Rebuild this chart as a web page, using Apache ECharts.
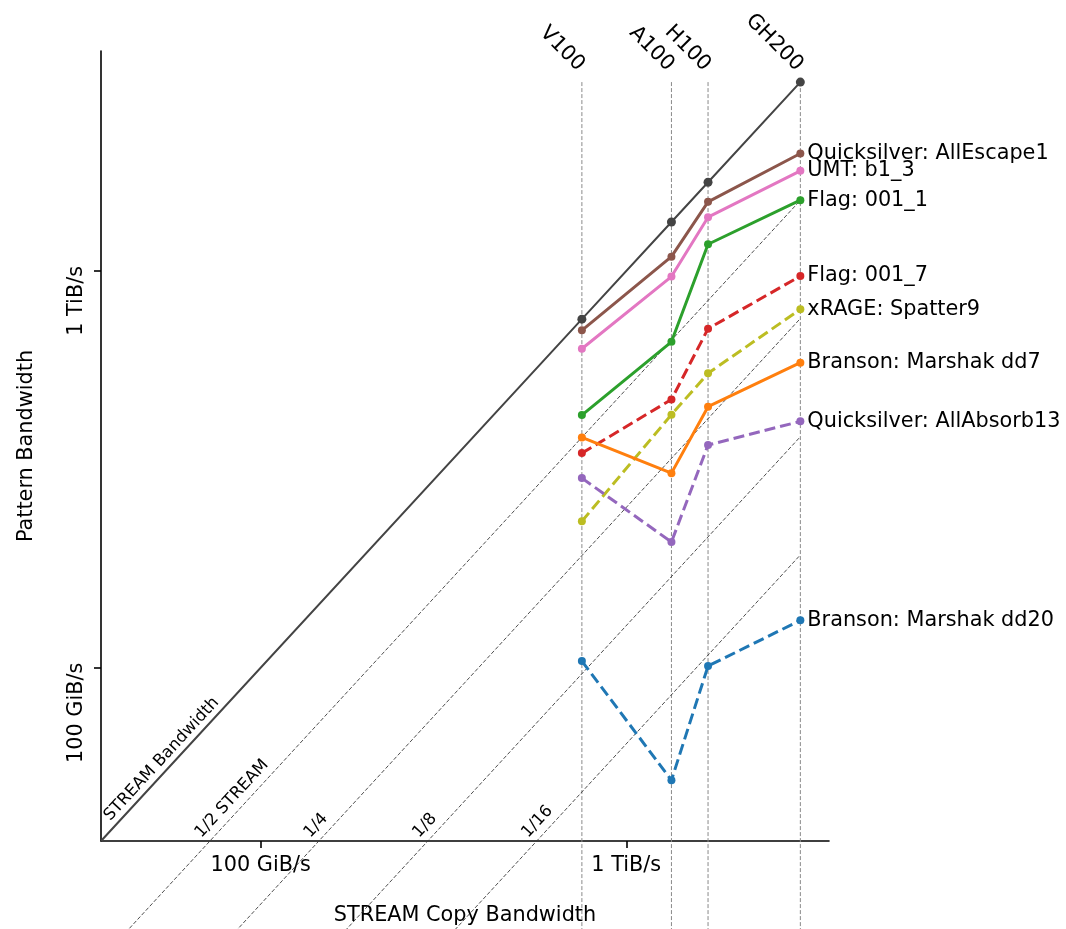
<!DOCTYPE html>
<html>
<head>
<meta charset="utf-8">
<script src="https://cdn.jsdelivr.net/npm/echarts@6/dist/echarts.min.js"></script>
<style>
  html, body { margin: 0; padding: 0; background: #fff; }
  #chart { width: 1066px; height: 929px; }
</style>
</head>
<body>
<div id="chart"></div>
<script>
// GPUs and their STREAM copy bandwidth (GiB/s)
const gpus = ['V100', 'A100', 'H100', 'GH200'];
const streamCopy = [772, 1365, 1723, 3100];

// pattern bandwidth per GPU (GiB/s), same order as gpus
const allEscape1 = [723, 1114, 1536, 2040];
const umtB13 = [649, 991, 1404, 1842];
const flag0011 = [440, 676, 1198, 1551];
const flag0017 = [352, 482, 730, 994];
const spatter9 = [236, 441, 562, 818];
const marshakDd7 = [386, 313, 462, 598];
const allAbsorb13 = [304, 209, 369, 424];
const marshakDd20 = [104, 51.7, 101, 132];

const patterns = [
  { name: 'Quicksilver: AllEscape1', values: allEscape1, color: '#8c564b', dashed: false },
  { name: 'UMT: b1_3', values: umtB13, color: '#e377c2', dashed: false },
  { name: 'Flag: 001_1', values: flag0011, color: '#2ca02c', dashed: false },
  { name: 'Flag: 001_7', values: flag0017, color: '#d62728', dashed: true },
  { name: 'xRAGE: Spatter9', values: spatter9, color: '#bcbd22', dashed: true },
  { name: 'Branson: Marshak dd7', values: marshakDd7, color: '#ff7f0e', dashed: false },
  { name: 'Quicksilver: AllAbsorb13', values: allAbsorb13, color: '#9467bd', dashed: true },
  { name: 'Branson: Marshak dd20', values: marshakDd20, color: '#1f77b4', dashed: true }
];

const ratios = [1 / 2, 1 / 4, 1 / 8, 1 / 16];
const ratioLabels = ['1/2 STREAM', '1/4', '1/8', '1/16'];

const axisMin = 36.2;
const axisMax = 3720;
const guideFloor = 10;
const tickValues = [100, 1024];
const tickLabels = ['100 GiB/s', '1 TiB/s'];

const FONT = 'DejaVu Sans';
const fs = 20.8;

function tickText(v) {
  let best = 0;
  tickValues.forEach((t, i) => {
    if (Math.abs(Math.log(v / t)) < Math.abs(Math.log(v / tickValues[best]))) best = i;
  });
  return tickLabels[best];
}

const series = [];
const guideTop = Math.max(...streamCopy);

// vertical guides at each GPU
streamCopy.forEach((x, i) => {
  series.push({
    type: 'line', name: gpus[i], silent: true, clip: false, symbol: 'none', z: 1,
    data: [[x, guideTop], [x, guideFloor]],
    lineStyle: { color: '#8a8a8a', width: 1, type: [4, 2] }
  });
});

// fractions of STREAM
ratios.forEach((r, i) => {
  series.push({
    type: 'line', name: ratioLabels[i], silent: true, clip: false, symbol: 'none', z: 1,
    data: [[axisMin, axisMin * r], [guideTop, guideTop * r]],
    lineStyle: { color: '#3a3a3a', width: 0.9, type: [4, 2] }
  });
});

// STREAM itself
series.push({
  type: 'line', name: 'STREAM Bandwidth', z: 3, clip: false,
  data: [{ value: [axisMin, axisMin], symbol: 'none' }].concat(streamCopy.map(v => [v, v])),
  symbol: 'circle', symbolSize: 9,
  itemStyle: { color: '#444' },
  lineStyle: { color: '#444', width: 2 }
});

patterns.forEach(p => {
  series.push({
    type: 'line', name: p.name, z: 4,
    data: streamCopy.map((x, i) => [x, p.values[i]]),
    symbol: 'circle', symbolSize: 8,
    itemStyle: { color: p.color },
    lineStyle: { color: p.color, width: 3, type: p.dashed ? [11, 5] : 'solid' },
    endLabel: { show: true, formatter: '{a}', color: '#000', fontSize: fs, fontFamily: FONT, distance: 7 }
  });
});

const axisCommon = {
  type: 'log', logBase: 10, min: axisMin, max: axisMax,
  nameLocation: 'middle', nameGap: 64,
  nameTextStyle: { fontSize: fs, color: '#000', fontFamily: FONT },
  axisLine: { show: true, lineStyle: { color: '#000', width: 1.6 } },
  axisTick: { show: true, customValues: tickValues, length: 7, lineStyle: { color: '#000', width: 1.6 } },
  minorTick: { show: false },
  splitLine: { show: false },
  minorSplitLine: { show: false }
};

const chart = echarts.init(document.getElementById('chart'));
chart.setOption({
  animation: false,
  backgroundColor: '#fff',
  textStyle: { fontFamily: FONT },
  grid: { left: 101, right: 237, top: 51, bottom: 88, containLabel: false, outerBoundsMode: 'none' },
  xAxis: Object.assign({}, axisCommon, {
    name: 'STREAM Copy Bandwidth',
    axisLabel: { customValues: tickValues, formatter: tickText, fontSize: fs, color: '#000', fontFamily: FONT, margin: 14 }
  }),
  yAxis: Object.assign({}, axisCommon, {
    name: 'Pattern Bandwidth',
    axisLabel: {
      customValues: tickValues, formatter: tickText, fontSize: fs, color: '#000', fontFamily: FONT,
      rotate: 90, align: 'right', verticalAlign: 'bottom', padding: [0, -5, 0, 0], margin: 14
    }
  }),
  series: series
});

// text annotations placed through the chart's own coordinate system
const px = v => chart.convertToPixel({ gridIndex: 0 }, v);
const a0 = px([axisMin, axisMin]);
const a1 = px([guideTop, guideTop]);
const slope = Math.atan2(a0[1] - a1[1], a1[0] - a0[0]);
const small = 16.5;
const graphics = [];

function baselineText(text, x, y, rot, size, align) {
  return {
    type: 'text', x: x, y: y, rotation: rot, silent: true, z: 100,
    style: { text: text, x: 0, y: -0.32 * size, fill: '#000', font: size + 'px "' + FONT + '"', align: align, verticalAlign: 'middle' }
  };
}

graphics.push(baselineText('STREAM Bandwidth', a0[0] + 10, a0[1] - 19, slope, small, 'left'));
ratios.forEach((r, i) => {
  const c = px([axisMin / r, axisMin]);
  graphics.push(baselineText(ratioLabels[i], c[0] - 8, c[1] - 2, slope, small, 'left'));
});
streamCopy.forEach((x, i) => {
  const p = px([x, guideTop]);
  graphics.push(baselineText(gpus[i], p[0] - 5.5, p[1] - 9.5, -Math.PI / 4, fs, 'right'));
});

chart.setOption({ graphic: graphics });
</script>
</body>
</html>
